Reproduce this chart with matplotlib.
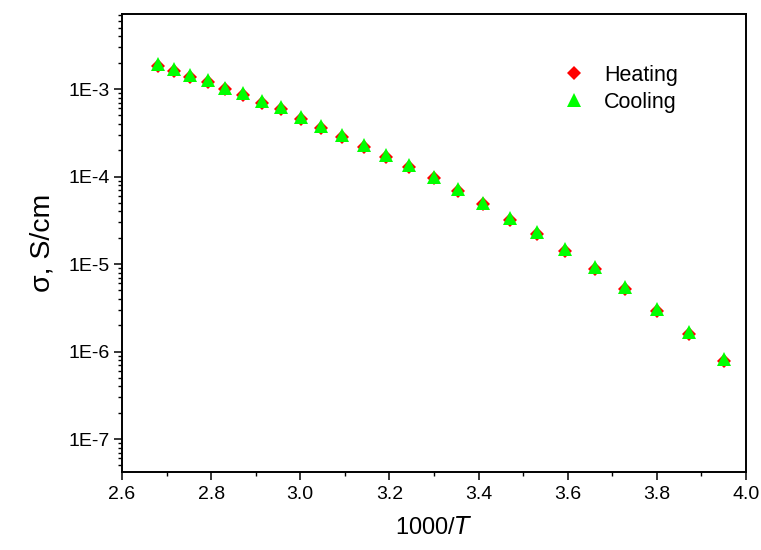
import numpy as np
import matplotlib
matplotlib.use('Agg')
import matplotlib.pyplot as plt
from matplotlib.ticker import LogLocator, FuncFormatter, MultipleLocator

plt.rcParams['font.family'] = ['Liberation Sans', 'DejaVu Sans']

# 1000/T for T = 100 ... -20 C
inv_T = [2.680, 2.716, 2.753, 2.792, 2.831, 2.872, 2.914, 2.957, 3.001, 3.047,
         3.094, 3.143, 3.193, 3.245, 3.299, 3.354, 3.411, 3.470, 3.532, 3.595,
         3.661, 3.729, 3.800, 3.873, 3.950]

heating = [1.85e-3, 1.62e-3, 1.39e-3, 1.21e-3, 0.99e-3, 8.6e-4, 7.0e-4, 5.9e-4, 4.6e-4, 3.6e-4,
           2.85e-4, 2.2e-4, 1.68e-4, 1.29e-4, 9.5e-5, 6.9e-5, 4.8e-5, 3.2e-5, 2.22e-5, 1.42e-5,
           8.8e-6, 5.25e-6, 2.93e-6, 1.6e-6, 7.85e-7]

cooling = [1.93e-3, 1.69e-3, 1.45e-3, 1.27e-3, 1.03e-3, 9.0e-4, 7.3e-4, 6.2e-4, 4.8e-4, 3.8e-4,
           3.0e-4, 2.3e-4, 1.76e-4, 1.35e-4, 9.9e-5, 7.2e-5, 5.0e-5, 3.36e-5, 2.32e-5, 1.48e-5,
           9.2e-6, 5.5e-6, 3.06e-6, 1.67e-6, 8.2e-7]

fig = plt.figure(figsize=(7.61, 5.5), dpi=100)
ax = fig.add_axes([0.1603, 0.1418, 0.82, 0.8327])

ax.plot(inv_T, heating, linestyle='none', marker='D', markersize=7,
        color='#ff0000', markeredgewidth=0, label='Heating')
ax.plot(inv_T, cooling, linestyle='none', marker='^', markersize=9.5,
        color='#00ff00', markeredgewidth=0, label='Cooling')

ax.set_yscale('log')
ax.set_xlim(2.6, 4.0)
ax.set_ylim(4.2e-8, 7.2e-3)

ax.xaxis.set_major_locator(MultipleLocator(0.2))
ax.xaxis.set_minor_locator(MultipleLocator(0.1))
ax.xaxis.set_major_formatter(FuncFormatter(lambda v, p: f'{v:.1f}'))
ax.yaxis.set_major_locator(LogLocator(base=10, numticks=20))
ax.yaxis.set_minor_locator(LogLocator(base=10, subs=np.arange(2, 10), numticks=20))
ax.yaxis.set_major_formatter(FuncFormatter(lambda v, p: f'1E{int(round(np.log10(v)))}'))

for s in ax.spines.values():
    s.set_linewidth(1.4)
ax.tick_params(which='major', direction='out', length=6, width=1.1, labelsize=14,
               top=False, right=False)
ax.tick_params(which='minor', direction='out', length=3, width=1.0, top=False, right=False)
ax.tick_params(axis='x', pad=4)
ax.tick_params(axis='y', pad=3)

ax.set_xlabel('1000/$\\mathit{T}$', fontsize=17, labelpad=10)
ax.set_ylabel('σ, S/cm', fontsize=20.5, labelpad=9)

ax.legend(loc='upper left', bbox_to_anchor=(0.672, 0.932), frameon=False,
          fontsize=15.5, handletextpad=0.8, labelspacing=0.3, numpoints=1,
          handlelength=1.2)

fig.savefig('out.png', dpi=100)
